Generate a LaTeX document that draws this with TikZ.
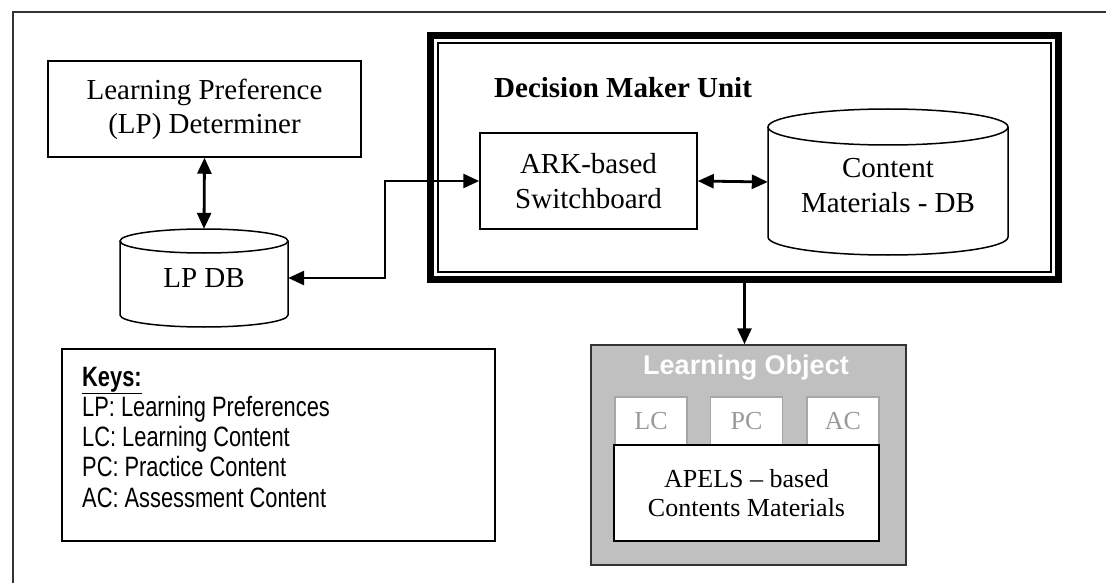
\documentclass[tikz,border=0pt]{standalone}
\usepackage{fontspec}
\setmainfont{Liberation Serif}
\newfontfamily\keyfont[FakeStretch=0.78]{Liberation Sans}
\newfontfamily\lofont{Liberation Sans}
\usetikzlibrary{arrows.meta}
\definecolor{logray}{HTML}{C0C0C0}
\definecolor{subgray}{HTML}{A6A6A6}
\definecolor{subtext}{HTML}{9A9A9A}
\begin{document}
\begin{tikzpicture}[x=1pt,y=-1pt,
  box/.style={draw=black, line width=1.5pt, fill=white, inner sep=0pt, align=center},
  serif/.style={font=\fontsize{29pt}{34pt}\selectfont, align=center},
  arr/.style={line width=2.8pt, -{Triangle[length=16pt,width=14pt]}},
  darr/.style={line width=2.8pt, {Triangle[length=16pt,width=14pt]}-{Triangle[length=16pt,width=14pt]}},
  keytext/.style={anchor=base west, inner sep=0pt, font=\keyfont\fontsize{28pt}{30pt}\selectfont},
  subbox/.style={draw=subgray, line width=1.5pt, fill=white, minimum width=72pt, minimum height=48pt, inner sep=0pt, text=subtext, font=\fontsize{26pt}{30pt}\selectfont}
]
\useasboundingbox (0,0) rectangle (1106,583);
% outer frame
\draw[line width=1.5pt, black!80] (1106,12) -- (13,12) -- (13,583);

% LP determiner
\node[box, serif, minimum width=313pt, minimum height=96pt] (lpd) at (204.5,109) {Learning Preference\\(LP) Determiner};

% LP DB cylinder
\draw[line width=1.5pt, fill=white] (120,241) -- (120,315) arc[start angle=180, end angle=360, x radius=84pt, y radius=12pt] -- (288,241);
\draw[line width=1.5pt, fill=white] (204,241) ellipse[x radius=84pt, y radius=12pt];
\node[serif, inner sep=0pt, minimum width=168pt, minimum height=98pt] (lpdb) at (204,278) {LP DB};

% Decision maker unit
\node[draw=black, line width=7pt, minimum width=628pt, minimum height=244pt, inner sep=0pt] (dmu) at (744.5,157.5) {};
\draw[line width=1.5pt] (438,43) rectangle (1051,272);
\node[font=\bfseries\fontsize{29pt}{34pt}\selectfont, anchor=west, inner sep=0pt] (dmut) at (494,88) {Decision Maker Unit};

\node[box, serif, minimum width=217pt, minimum height=96pt] (ark) at (588.5,181) {ARK-based\\[1pt]Switchboard};

% Content DB cylinder
\draw[line width=1.5pt, fill=white] (768,127) -- (768,237) arc[start angle=180, end angle=360, x radius=120pt, y radius=18pt] -- (1008,127);
\draw[line width=1.5pt, fill=white] (888,127) ellipse[x radius=120pt, y radius=18pt];
\node[inner sep=0pt, minimum width=240pt, minimum height=147pt] (cdb) at (888,182) {};
\node[serif, inner sep=0pt] (cdbt) at (888,186) {Content\\[1pt]Materials - DB};

% Learning object
\node[draw=black!80, line width=1.5pt, fill=logray, minimum width=315pt, minimum height=220pt, inner sep=0pt] (lo) at (748.5,455) {};
\node[text=white, font=\lofont\bfseries\fontsize{27pt}{30pt}\selectfont, inner sep=0pt] (lot) at (746,368) {Learning Object};
\node[subbox] (lc) at (651,421) {LC};
\node[subbox] (pc) at (746.5,421) {PC};
\node[subbox] (ac) at (843,421) {AC};
\node[box, minimum width=265pt, minimum height=96pt, font=\fontsize{26pt}{29pt}\selectfont] (apels) at (746.5,493) {APELS – based\\Contents Materials};

% Keys
\node[box, minimum width=433pt, minimum height=192pt] (keys) at (278.5,445) {};
\node[keytext] (k0) at (82,386) {\underline{\textbf{Keys:}}};
\node[keytext] (k1) at (82,416) {LP: Learning Preferences};
\node[keytext] (k2) at (82,446) {LC: Learning Content};
\node[keytext] (k3) at (82,476.5) {PC: Practice Content};
\node[keytext] (k4) at (82,507) {AC: Assessment Content};

% connectors
\coordinate (j1) at (385,0);
\draw[darr] (lpd.south) -- (lpdb.north);
\draw[darr] (lpdb.east) -| (j1 |- ark.west) -- (ark.west);
\draw[darr] (ark.east) -- (cdb.west);
\draw[arr] (dmu.south) -- (dmu.south |- lo.north);
\end{tikzpicture}
\end{document}
